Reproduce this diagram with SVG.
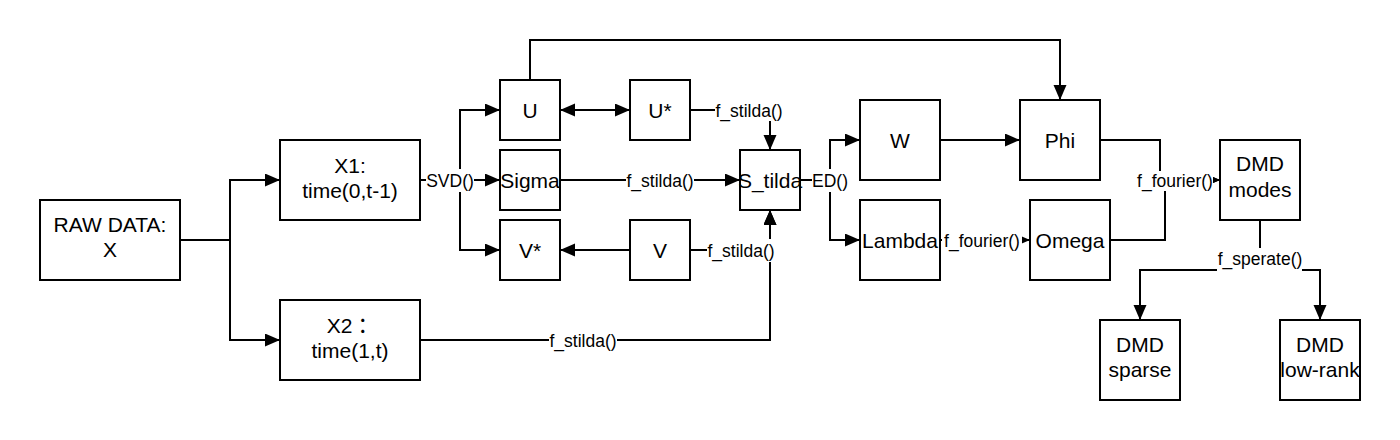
<svg xmlns="http://www.w3.org/2000/svg" width="1400" height="440" viewBox="0 0 1400 440">
<style>
.box{fill:#fff;stroke:#000;stroke-width:2}
.nt{font-family:"Liberation Sans","Noto Sans CJK TC",Arial,sans-serif;font-size:21px;text-anchor:middle;fill:#000}
.ln{fill:none;stroke:#000;stroke-width:2}
.lb{fill:#fff;stroke:none}
.lt{font-family:"Liberation Sans",Arial,sans-serif;font-size:17.5px;text-anchor:middle;fill:#000}
</style>
<defs>
<marker id="ah" markerUnits="userSpaceOnUse" markerWidth="16" markerHeight="14" refX="15" refY="6.5" orient="auto">
<path d="M0,0 L15,6.5 L0,13 z" fill="#000"/>
</marker>
<marker id="ahs" markerUnits="userSpaceOnUse" markerWidth="16" markerHeight="14" refX="15" refY="6.5" orient="auto-start-reverse">
<path d="M0,0 L15,6.5 L0,13 z" fill="#000"/>
</marker>
</defs>
<rect width="1400" height="440" fill="#fff"/>
<g id="connectors">
<path class="ln" d="M180,240 H230 V180 H280" marker-end="url(#ah)"/>
<path class="ln" d="M230,240 V340 H280" marker-end="url(#ah)"/>
<path class="ln" d="M420,180 H500" marker-end="url(#ah)"/>
<path class="ln" d="M460,180 V110 H500" marker-end="url(#ah)"/>
<path class="ln" d="M460,180 V250 H500" marker-end="url(#ah)"/>
<path class="ln" d="M560,110 H630" marker-start="url(#ahs)" marker-end="url(#ahs)"/>
<path class="ln" d="M530,80 V40 H1060 V100" marker-end="url(#ah)"/>
<path class="ln" d="M690,110 H770 V150" marker-end="url(#ah)"/>
<path class="ln" d="M560,180 H740" marker-end="url(#ah)"/>
<path class="ln" d="M630,250 H560" marker-end="url(#ah)"/>
<path class="ln" d="M690,250 H770 V210" marker-end="url(#ah)"/>
<path class="ln" d="M420,340 H770 V210" marker-end="url(#ah)"/>
<path class="ln" d="M800,180 H830 V140 H860" marker-end="url(#ah)"/>
<path class="ln" d="M830,180 V240 H860" marker-end="url(#ah)"/>
<path class="ln" d="M940,140 H1020" marker-end="url(#ah)"/>
<path class="ln" d="M940,240 H1030" marker-end="url(#ah)"/>
<path class="ln" d="M1100,140 H1160 V180 H1220" marker-end="url(#ah)"/>
<path class="ln" d="M1110,240 H1165 V180 H1220" marker-end="url(#ah)"/>
<path class="ln" d="M1260,220 V270 H1140 V320" marker-end="url(#ah)"/>
<path class="ln" d="M1260,270 H1320 V320" marker-end="url(#ah)"/>
<rect class="lb" x="426" y="169" width="48" height="23"/>
<text class="lt" x="450" y="186.5">SVD()</text>
<rect class="lb" x="626" y="169" width="68" height="23"/>
<text class="lt" x="660" y="186.5">f_stilda()</text>
<rect class="lb" x="715" y="99" width="68" height="22"/>
<text class="lt" x="749" y="116.5">f_stilda()</text>
<rect class="lb" x="707" y="239" width="68" height="23"/>
<text class="lt" x="741" y="256.5">f_stilda()</text>
<rect class="lb" x="549" y="329" width="68" height="23"/>
<text class="lt" x="583" y="346.5">f_stilda()</text>
<rect class="lb" x="812" y="169" width="36" height="23"/>
<text class="lt" x="830" y="186.5">ED()</text>
<rect class="lb" x="942" y="229" width="80" height="23"/>
<text class="lt" x="982" y="246.5">f_fourier()</text>
<rect class="lb" x="1137" y="171" width="76" height="20"/>
<text class="lt" x="1175" y="186.5">f_fourier()</text>
<rect class="lb" x="1217" y="248" width="85" height="25"/>
<text class="lt" x="1260" y="265">f_sperate()</text>
</g>
<g id="raw"><rect class="box" x="40" y="200" width="140" height="80"/><text class="nt" x="110" y="232">RAW DATA:</text><text class="nt" x="110" y="257">X</text></g>
<g id="x1"><rect class="box" x="280" y="140" width="140" height="80"/><text class="nt" x="350" y="173">X1:</text><text class="nt" x="350" y="198">time(0,t-1)</text></g>
<g id="x2"><rect class="box" x="280" y="300" width="140" height="80"/><text class="nt" x="350" y="333">X2：</text><text class="nt" x="350" y="358">time(1,t)</text></g>
<g id="u"><rect class="box" x="500" y="80" width="60" height="60"/><text class="nt" x="530" y="117.5">U</text></g>
<g id="sigma"><rect class="box" x="500" y="150" width="60" height="60"/><text class="nt" x="530" y="187.5">Sigma</text></g>
<g id="vstar"><rect class="box" x="500" y="220" width="60" height="60"/><text class="nt" x="530" y="257.5">V*</text></g>
<g id="ustar"><rect class="box" x="630" y="80" width="60" height="60"/><text class="nt" x="660" y="117.5">U*</text></g>
<g id="v"><rect class="box" x="630" y="220" width="60" height="60"/><text class="nt" x="660" y="257.5">V</text></g>
<g id="stilda"><rect class="box" x="740" y="150" width="60" height="60"/><text class="nt" x="770" y="187.5">S_tilda</text></g>
<g id="w"><rect class="box" x="860" y="100" width="80" height="80"/><text class="nt" x="900" y="147.5">W</text></g>
<g id="lambda"><rect class="box" x="860" y="200" width="80" height="80"/><text class="nt" x="900" y="247.5">Lambda</text></g>
<g id="phi"><rect class="box" x="1020" y="100" width="80" height="80"/><text class="nt" x="1060" y="147.5">Phi</text></g>
<g id="omega"><rect class="box" x="1030" y="200" width="80" height="80"/><text class="nt" x="1070" y="247.5">Omega</text></g>
<g id="dmdmodes"><rect class="box" x="1220" y="140" width="80" height="80"/><text class="nt" x="1260" y="171">DMD</text><text class="nt" x="1260" y="197">modes</text></g>
<g id="dmdsparse"><rect class="box" x="1100" y="320" width="80" height="80"/><text class="nt" x="1140" y="352">DMD</text><text class="nt" x="1140" y="377">sparse</text></g>
<g id="dmdlowrank"><rect class="box" x="1280" y="320" width="80" height="80"/><text class="nt" x="1320" y="352">DMD</text><text class="nt" x="1320" y="377">low-rank</text></g>
</svg>
